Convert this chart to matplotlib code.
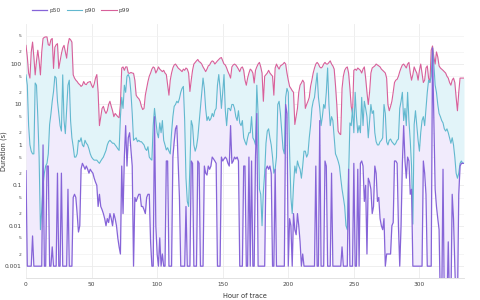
import matplotlib
matplotlib.use("Agg")
import matplotlib.pyplot as plt
from matplotlib.ticker import FixedLocator, FixedFormatter

hours = list(range(335))

p99 = [
    290, 150, 60, 45, 200, 350, 150, 54, 120, 220,
    120, 54, 200, 430, 460, 470, 470, 300, 290, 400,
    430, 78, 260, 300, 320, 78, 120, 180, 250, 290,
    200, 140, 300, 430, 400, 350, 54, 45, 40, 37,
    33, 31, 28, 30, 37, 32, 31, 35, 36, 37,
    30, 26, 32, 45, 55, 20, 3, 5, 8, 9,
    7, 6, 7, 10, 12, 9, 7, 5, 6, 5.5,
    5, 4.7, 10, 80, 85, 70, 85, 85, 60, 59,
    62, 60, 59, 40, 17, 15, 14, 12, 9, 7.5,
    8, 17, 25, 37, 50, 60, 75, 85, 80, 60,
    70, 85, 75, 70, 65, 70, 60, 55, 30, 17,
    40, 60, 80, 95, 100, 90, 80, 75, 70, 65,
    75, 70, 80, 75, 60, 21, 40, 70, 100, 110,
    120, 130, 115, 110, 100, 85, 75, 65, 75, 90,
    95, 110, 120, 115, 100, 110, 120, 130, 140, 145,
    120, 100, 95, 80, 65, 55, 45, 85, 95, 100,
    95, 85, 75, 65, 80, 85, 70, 40, 30, 45,
    60, 75, 70, 60, 34, 70, 85, 100, 110, 85,
    60, 12, 50, 55, 60, 70, 60, 55, 50, 17,
    80, 100, 85, 75, 90, 95, 100, 110, 100, 60,
    40, 28, 25, 22, 20, 3.2, 5, 8, 20, 30,
    34, 40, 35, 8, 10, 12, 15, 28, 40, 60,
    80, 100, 110, 100, 85, 80, 85, 100, 110, 100,
    100, 110, 120, 100, 90, 75, 30, 10, 2.2, 1.9,
    1.8, 25, 50, 70, 80, 85, 60, 25, 9, 6,
    70, 75, 70, 80, 75, 70, 60, 75, 85, 45,
    20, 10, 20, 60, 80, 85, 90, 100, 95, 90,
    85, 75, 70, 65, 60, 45, 10, 7, 9, 12,
    20, 35, 40, 42, 50, 65, 80, 95, 100, 90,
    80, 100, 110, 60, 40, 55, 85, 70, 60, 40,
    70, 100, 60, 35, 40, 80, 90, 45, 35, 220,
    280, 150, 100, 200, 150, 90, 80, 75, 70, 65,
    60, 50, 45, 35, 30, 40, 45, 35, 15, 7,
    20, 45, 45, 45, 45,
]

p90 = [
    54, 30, 3, 1, 0.7, 0.6, 0.6, 34, 30, 5,
    0.5, 0.008, 0.025, 0.1, 0.2, 0.3, 0.35, 0.6, 3.2, 5.8,
    12, 21, 50, 45, 12, 6, 3, 2.2, 54, 4,
    1.9, 8, 30, 40, 4, 1.5, 0.9, 0.5, 0.5, 0.6,
    1.3, 1.2, 1.5, 1.0, 0.9, 1.3, 1.1, 1.0, 0.8, 0.6,
    0.5, 0.45, 0.42, 0.42, 0.42, 0.38, 0.35, 0.4, 0.45, 0.5,
    0.6, 0.73, 1.0, 1.2, 1.3, 1.2, 1.1, 1.1, 1.0, 0.9,
    0.8, 0.73, 5, 15, 8, 30, 20, 50, 55, 45,
    20, 6, 1.3, 1.4, 1.5, 1.2, 1.3, 1.2, 1.2, 1.1,
    1.0, 0.8, 0.73, 0.9, 0.5, 0.45, 0.42, 3, 8, 4,
    2, 1.5, 3.5, 2, 4, 1.3, 1.0, 0.75, 0.85, 0.7,
    0.6, 2, 5, 9, 10, 12, 11, 14, 20, 25,
    28, 4, 0.15, 0.04, 0.03, 0.3, 4, 3, 1, 0.7,
    0.9, 1.5, 3.5, 8, 20, 45, 25, 8, 4, 5,
    4, 4.5, 6, 5, 7, 8, 30, 55, 25, 8,
    20, 55, 7, 3, 8, 8, 7, 10, 10, 8,
    5, 4, 7, 3.5, 3, 4, 1.5, 1.2, 1.0, 1.5,
    2, 2, 5, 1.5, 1.3, 1.0, 30, 6, 0.08, 0.06,
    0.01, 0.07, 0.2, 1.1, 2.2, 2.5, 1.5, 1.0, 0.5, 0.2,
    0.25, 0.5, 10, 12, 6, 2.2, 0.8, 0.6, 15, 25,
    20, 0.7, 0.05, 0.02, 0.1, 0.3, 0.2, 0.4, 0.3, 0.25,
    0.15, 0.3, 0.7, 0.7, 0.5, 0.6, 1.5, 3, 8, 12,
    15, 30, 60, 15, 8, 3, 5, 10, 8, 20,
    80, 10, 3, 5, 4, 1.5, 0.6, 0.5, 0.4, 0.3,
    0.15, 0.08, 0.05, 0.03, 0.01, 0.008, 0.15, 3.5, 3, 8,
    2, 20, 5, 2, 3, 2, 15, 3, 12, 8,
    5, 1.5, 4, 10, 6, 7, 2, 1.2, 1.0, 1.0,
    1.2, 1.3, 1.5, 10, 6, 1.2, 1.0, 1.3, 1.4, 1.2,
    1.1, 1.0, 1.1, 1.3, 1.4, 8, 12, 20, 4, 8,
    3, 20, 4, 1.3, 0.3, 0.011, 3.2, 7, 3, 1.3,
    0.7, 2, 4, 5, 3, 8, 20, 40, 35, 50,
    250, 100, 30, 20, 10, 6, 5, 4, 3.5, 2.5,
    2.2, 2.5, 2.0, 1.5, 1.1, 1.5, 1.0, 0.5, 0.2, 0.15,
    0.2, 0.35, 0.4, 0.35, 0.35,
]

p50 = [
    0.23, 0.001, 0.001, 0.001, 0.001, 0.0056, 0.001, 0.001, 0.001, 0.001,
    0.001, 0.001, 0.001, 1.0, 0.001, 0.001, 0.3, 0.3, 0.001, 0.001,
    0.003, 0.001, 0.001, 0.001, 0.2, 0.001, 0.001, 0.2, 0.001, 0.001,
    0.001, 0.001, 0.08, 0.001, 0.001, 0.001, 0.05, 0.06, 0.05, 0.02,
    0.007, 0.01, 0.25, 0.35, 0.3, 0.25, 0.3, 0.25, 0.2, 0.25,
    0.22, 0.2, 0.15, 0.12, 0.1, 0.03, 0.06, 0.03, 0.025, 0.02,
    0.015, 0.01, 0.015, 0.012, 0.02, 0.015, 0.01, 0.02, 0.015, 0.01,
    0.005, 0.003, 0.002, 0.3, 0.02, 0.5, 3, 0.3, 1.5, 2,
    0.8, 0.3, 0.001, 0.05, 0.04, 0.05, 0.06, 0.06, 0.03, 0.03,
    0.025, 0.02, 0.05, 0.06, 0.06, 0.004, 0.001, 0.001, 5, 0.01,
    0.002, 0.001, 0.005, 0.001, 0.002, 0.001, 0.001, 0.4, 0.4, 0.001,
    0.001, 0.001, 0.5, 1.2, 2.5, 3, 0.4, 0.05, 0.001, 0.001,
    0.001, 0.001, 0.03, 0.001, 0.001, 0.001, 0.4, 0.35, 0.001, 0.001,
    0.001, 0.4, 0.35, 0.001, 0.001, 0.001, 0.3, 0.2, 0.18, 0.3,
    0.25, 0.3, 0.5, 0.45, 0.4, 0.35, 0.001, 0.001, 0.001, 0.5,
    0.4, 0.45, 0.5, 0.45, 0.35, 0.3, 3, 0.35, 0.4, 0.5,
    0.45, 0.5, 0.4, 0.001, 0.001, 0.001, 0.3, 0.3, 0.001, 0.001,
    0.5, 0.001, 0.4, 0.001, 0.001, 0.5, 6, 0.001, 0.001, 0.001,
    0.001, 0.001, 0.001, 0.25, 0.3, 0.25, 0.3, 0.2, 0.001, 0.001,
    0.25, 0.001, 0.001, 0.001, 0.001, 0.001, 0.001, 0.001, 10, 6,
    0.001, 0.015, 0.01, 0.001, 0.02, 0.008, 0.006, 0.02, 0.01, 0.004,
    0.001, 0.002, 0.001, 0.001, 0.001, 0.001, 0.001, 0.001, 0.001, 0.001,
    0.001, 0.3, 0.001, 0.001, 4, 0.001, 0.001, 0.001, 0.4, 0.3,
    0.001, 0.001, 0.001, 0.2, 0.001, 0.001, 0.001, 0.001, 0.001, 0.001,
    0.001, 0.003, 0.001, 0.001, 0.001, 0.001, 0.25, 0.001, 0.001, 0.001,
    0.35, 0.001, 0.001, 0.25, 0.001, 0.35, 0.4, 0.3, 0.04, 0.1,
    0.002, 0.15, 0.12, 0.08, 0.02, 0.03, 0.3, 0.2, 0.04, 0.05,
    0.015, 0.01, 0.008, 0.015, 0.001, 0.002, 0.002, 0.002, 0.002, 0.01,
    0.012, 0.4, 0.4, 0.35, 0.01, 0.001, 0.01, 0.35, 3, 0.4,
    0.15, 0.5, 0.4, 0.06, 0.08, 0.001, 0.001, 0.001, 0.001, 0.001,
    0.001, 0.001, 0.001, 0.4, 0.2, 0.06, 0.001, 0.001, 0.001, 0.001,
    250, 5, 0.08, 0.03, 0.015, 0.008, 0.0001, 0.0001, 0.25, 0.0001,
    0.0001, 0.0001, 0.004, 0.0001, 0.0001, 0.06, 0.015, 0.001, 0.0001, 0.0001,
    0.06, 0.3, 0.35, 0.35, 0.35,
]

assert len(p50) == len(p90) == len(p99) == len(hours)

series_names = ["p50", "p90", "p99"]
c50, c90, c99 = "#8664d8", "#62b8cf", "#d8609a"

fig = plt.figure(figsize=(4.8, 3.0), dpi=100)
ax = fig.add_axes([26 / 480, 1 - 278 / 300, (464 - 26) / 480, (278 - 24) / 300])

ax.fill_between(hours, p50, p90, color="#f1ebfc", lw=0, zorder=1)
ax.fill_between(hours, p90, p99, color="#e2f4f9", lw=0, zorder=1)
ax.plot(hours, p99, color=c99, lw=0.8, label=series_names[2], zorder=3)
ax.plot(hours, p90, color=c90, lw=0.8, label=series_names[1], zorder=4)
ax.plot(hours, p50, color=c50, lw=0.9, label=series_names[0], zorder=5)

ax.set_yscale("log")
ax.set_ylim(5.1e-4, 980)
ax.set_xlim(0, 334)

major = [0.001, 0.01, 0.1, 1, 10, 100]
major_lbl = ["0.001", "0.01", "0.1", "1", "10", "100"]
minor = [5e-4, 2e-3, 5e-3, 2e-2, 5e-2, 0.2, 0.5, 2, 5, 20, 50, 200, 500]
minor_lbl = ["5", "2", "5", "2", "5", "2", "5", "2", "5", "2", "5", "2", "5"]
ax.yaxis.set_major_locator(FixedLocator(major))
ax.yaxis.set_major_formatter(FixedFormatter(major_lbl))
ax.yaxis.set_minor_locator(FixedLocator(minor))
ax.yaxis.set_minor_formatter(FixedFormatter(minor_lbl))
ax.set_xticks([0, 50, 100, 150, 200, 250, 300])

ax.tick_params(axis="both", which="both", length=0, colors="#444444")
ax.tick_params(axis="y", which="major", labelsize=4.2, pad=3)
ax.tick_params(axis="y", which="minor", labelsize=3.2, pad=3)
ax.tick_params(axis="x", which="major", labelsize=4.2, pad=3)

ax.grid(True, which="major", axis="both", color="#ebebeb", lw=0.6, zorder=0)
ax.grid(True, which="minor", axis="y", color="#f2f2f2", lw=0.5, zorder=0)
ax.set_axisbelow(True)
for s in ["top", "right", "left"]:
    ax.spines[s].set_visible(False)
ax.spines["bottom"].set_color("#dddddd")
ax.spines["bottom"].set_linewidth(0.6)

ax.set_xlabel("Hour of trace", fontsize=4.8, color="#333333", labelpad=4)
ax.set_ylabel("Duration (s)", fontsize=4.8, color="#333333")
ax.yaxis.set_label_coords(-19 / 438, 0.5)

handles, labels = ax.get_legend_handles_labels()
order = [labels.index(n) for n in series_names]
fig.legend([handles[i] for i in order], [labels[i] for i in order],
           loc="upper left", bbox_to_anchor=(27 / 480, 1 - 3 / 300), ncol=3,
           frameon=False, fontsize=4.2, handlelength=2.6, handletextpad=0.4,
           columnspacing=1.0, labelcolor="#444444")

fig.savefig("out.png", dpi=100, facecolor="white")
